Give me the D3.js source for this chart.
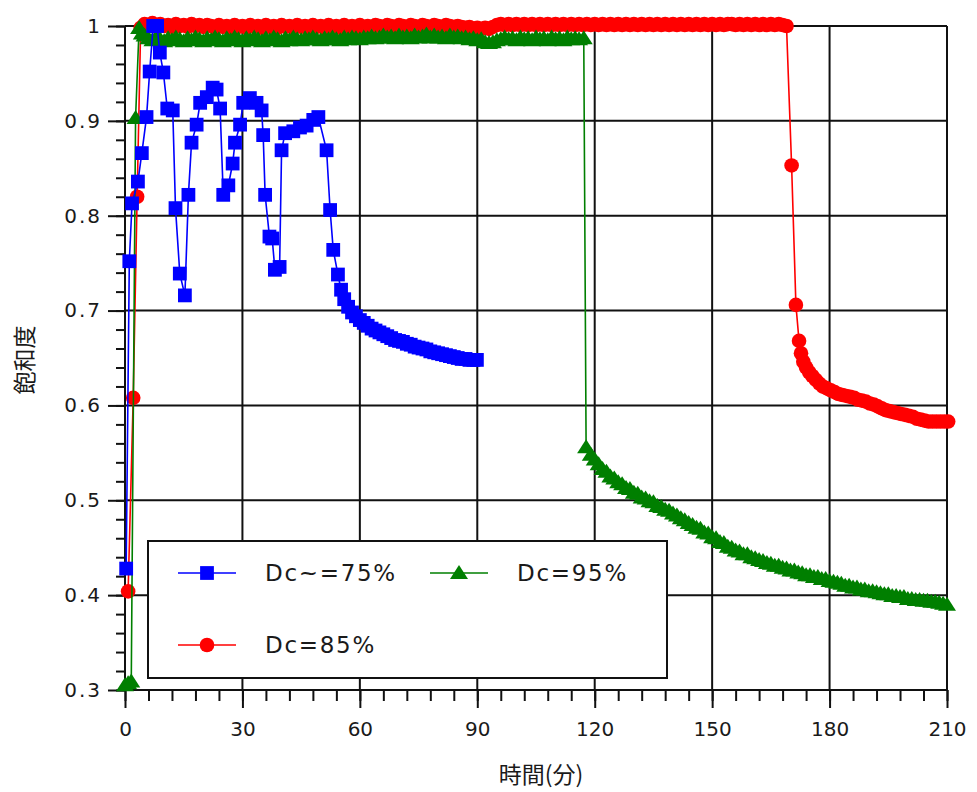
<!DOCTYPE html>
<html>
<head>
<meta charset="utf-8">
<script src="https://cdn.jsdelivr.net/npm/d3@7"></script>
<style>
  body { margin: 0; background: #fff; }
  text { font-family: "DejaVu Sans", Verdana, sans-serif; fill: #1a1a1a; }
  .cjk { font-family: "Noto Sans CJK JP", "Noto Sans CJK SC", sans-serif; }
</style>
</head>
<body>
<div id="chart"></div>
<script>
// tick labels
var xTicks = [0, 30, 60, 90, 120, 150, 180, 210];
var yTicks = [0.3, 0.4, 0.5, 0.6, 0.7, 0.8, 0.9, 1];
var yTickLabels = ["0.3", "0.4", "0.5", "0.6", "0.7", "0.8", "0.9", "1"];
var seriesNames = ["Dc~=75%", "Dc=95%", "Dc=85%"];

// Dc~=75%
var blueTime = [0.3, 1.1, 1.8, 3.3, 4.3, 5.5, 6.3, 7.2, 8.2, 8.9,
  9.8, 10.8, 12.2, 12.9, 14.0, 15.3, 16.2, 17.0, 18.3, 19.2,
  20.9, 22.4, 23.4, 24.3, 25.1, 26.4, 27.5, 28.1, 29.4, 30.2,
  31.9, 33.6, 34.9, 35.3, 35.8, 36.9, 37.6, 38.3, 39.5, 40.0,
  40.9, 43.0, 44.7, 46.4, 48.1, 49.4, 51.5, 52.4, 53.2, 54.4,
  55.2, 56, 57, 58, 59, 60, 61, 62, 63, 64, 65, 66, 67, 68, 69, 70,
  71, 72, 73, 74, 75, 76, 77, 78, 79, 80, 81, 82, 83, 84, 85, 86,
  87, 88, 89, 89.9];
var blueValue = [0.428, 0.752, 0.813, 0.836, 0.866, 0.904, 0.952, 1.0, 1.0, 0.972,
  0.951, 0.913, 0.911, 0.808, 0.739, 0.716, 0.822, 0.877, 0.896, 0.919,
  0.925, 0.935, 0.933, 0.913, 0.822, 0.832, 0.855, 0.877, 0.896, 0.919,
  0.924, 0.919, 0.911, 0.885, 0.822, 0.778, 0.776, 0.743, 0.746, 0.869,
  0.887, 0.889, 0.893, 0.895, 0.901, 0.904, 0.869, 0.806, 0.764, 0.738,
  0.722, 0.712, 0.704, 0.698, 0.694, 0.690, 0.687, 0.684, 0.681, 0.679, 0.677, 0.675, 0.673, 0.671, 0.669, 0.668,
  0.667, 0.665, 0.664, 0.662, 0.661, 0.660, 0.659, 0.657, 0.656, 0.655, 0.654, 0.653, 0.652, 0.651, 0.650, 0.649,
  0.649, 0.648, 0.648, 0.648];

// Dc=95%
var greenTime = [0, 0.8, 1.6, 2.7, 3.6, 4.3,
  5, 6, 7, 8, 9, 10, 11, 12, 13, 14, 15, 16, 17, 18,
  19, 20, 21, 22, 23, 24, 25, 26, 27, 28, 29, 30, 31, 32,
  33, 34, 35, 36, 37, 38, 39, 40, 41, 42, 43, 44, 45, 46,
  47, 48, 49, 50, 51, 52, 53, 54, 55, 56, 57, 58, 59, 60,
  61, 62, 63, 64, 65, 66, 67, 68, 69, 70, 71, 72, 73, 74,
  75, 76, 77, 78, 79, 80, 81, 82, 83, 84, 85, 86, 87, 88,
  89, 90, 91, 92, 93, 94, 95, 96, 97, 98, 99, 100, 101, 102,
  103, 104, 105, 106, 107, 108, 109, 110, 111, 112, 113, 114, 115, 116,
  117.2, 117.8,
  119, 120, 121, 122, 123, 124, 125, 126, 127, 128, 129, 130, 131, 132,
  133, 134, 135, 136, 137, 138, 139, 140, 141, 142, 143, 144, 145, 146,
  147, 148, 149, 150, 151, 152, 153, 154, 155, 156, 157, 158, 159, 160,
  161, 162, 163, 164, 165, 166, 167, 168, 169, 170, 171, 172, 173, 174,
  175, 176, 177, 178, 179, 180, 181, 182, 183, 184, 185, 186, 187, 188,
  189, 190, 191, 192, 193, 194, 195, 196, 197, 198, 199, 200, 201, 202,
  203, 204, 205, 206, 207, 208, 209, 210];
var greenValue = [0.305, 0.307, 0.309, 0.903, 0.998, 0.992,
  0.990, 0.987, 0.985, 0.988, 0.986, 0.984, 0.987, 0.985, 0.988, 0.986, 0.984, 0.987, 0.985, 0.988,
  0.986, 0.984, 0.987, 0.985, 0.988, 0.986, 0.984, 0.987, 0.985, 0.988, 0.986, 0.984, 0.987, 0.985,
  0.988, 0.986, 0.984, 0.987, 0.985, 0.988, 0.986, 0.984, 0.987, 0.985, 0.988, 0.986, 0.985, 0.987,
  0.986, 0.988, 0.986, 0.985, 0.987, 0.986, 0.988, 0.986, 0.985, 0.988, 0.986, 0.988, 0.987, 0.986,
  0.988, 0.987, 0.989, 0.987, 0.988, 0.990, 0.988, 0.989, 0.987, 0.990, 0.988, 0.989, 0.987, 0.990,
  0.988, 0.989, 0.991, 0.988, 0.990, 0.988, 0.989, 0.987, 0.990, 0.988, 0.989, 0.987, 0.988, 0.986,
  0.987, 0.985, 0.986, 0.983, 0.982, 0.983, 0.985, 0.986, 0.988, 0.986, 0.987, 0.985, 0.988, 0.986,
  0.987, 0.985, 0.988, 0.986, 0.987, 0.985, 0.988, 0.986, 0.987, 0.985, 0.988, 0.986, 0.987, 0.986,
  0.987, 0.556,
  0.548, 0.543, 0.538, 0.533, 0.530, 0.525, 0.523, 0.519, 0.517, 0.513, 0.512, 0.508, 0.507, 0.503,
  0.502, 0.499, 0.498, 0.494, 0.493, 0.490, 0.489, 0.486, 0.484, 0.481, 0.479, 0.476, 0.474, 0.471,
  0.470, 0.466, 0.465, 0.461, 0.460, 0.456, 0.455, 0.451, 0.450, 0.447, 0.446, 0.443, 0.443, 0.440,
  0.439, 0.437, 0.436, 0.434, 0.433, 0.431, 0.431, 0.429, 0.428, 0.426, 0.426, 0.424, 0.423, 0.421,
  0.421, 0.419, 0.419, 0.417, 0.417, 0.415, 0.414, 0.413, 0.412, 0.410, 0.410, 0.408, 0.408, 0.406,
  0.406, 0.404, 0.404, 0.403, 0.402, 0.401, 0.401, 0.399, 0.399, 0.398, 0.398, 0.396, 0.396, 0.395,
  0.395, 0.394, 0.394, 0.393, 0.393, 0.392, 0.391, 0.390];

// Dc=85%
var redTime = [0.8, 2.1, 3.1, 4.0,
  5, 6, 7, 8, 9, 10, 11, 12, 13, 14, 15, 16, 17, 18, 19,
  20, 21, 22, 23, 24, 25, 26, 27, 28, 29, 30, 31, 32, 33, 34,
  35, 36, 37, 38, 39, 40, 41, 42, 43, 44, 45, 46, 47, 48, 49,
  50, 51, 52, 53, 54, 55, 56, 57, 58, 59, 60, 61, 62, 63, 64,
  65, 66, 67, 68, 69, 70, 71, 72, 73, 74, 75, 76, 77, 78, 79,
  80, 81, 82, 83, 84, 85, 86, 87, 88, 89, 90, 91, 92, 93, 94,
  95, 96, 97, 98, 99, 100, 101, 102, 103, 104, 105, 106, 107, 108, 109,
  110, 111, 112, 113, 114, 115, 116, 117, 118, 119, 120, 121, 122, 123, 124,
  125, 126, 127, 128, 129, 130, 131, 132, 133, 134, 135, 136, 137, 138, 139,
  140, 141, 142, 143, 144, 145, 146, 147, 148, 149, 150, 151, 152, 153, 154,
  155, 156, 157, 158, 159, 160, 161, 162, 163, 164, 165, 166, 167, 168, 169,
  170.3, 171.4, 172.2, 172.7, 173.3, 174.0, 174.8, 175.6, 176.5, 177.4,
  178.3, 179.3, 180.3, 181.3, 182.3, 183.3, 184.3, 185.3, 186.3, 187.3,
  188.3, 189.3, 190.3, 191.3, 192.3, 193.3, 194.3, 195.3, 196.3, 197.3,
  198.3, 199.3, 200.3, 201.3, 202.3, 203.3, 204.3, 205.3, 206.3, 207.3,
  208.3, 209.3, 210.3];
var redValue = [0.404, 0.608, 0.820, 0.998,
  1.002, 1.000, 1.003, 0.999, 1.002, 1.000, 1.001, 0.999, 1.002, 1.000, 1.001, 0.999, 1.002, 1.000, 1.001,
  0.999, 1.001, 1.000, 0.998, 1.001, 0.999, 1.000, 0.998, 1.001, 0.999, 1.000, 0.998, 1.001, 0.999, 1.000,
  0.998, 1.001, 0.999, 1.000, 0.998, 1.001, 0.999, 1.000, 0.998, 1.001, 0.999, 1.000, 0.998, 1.001, 0.999,
  1.000, 0.998, 1.001, 0.999, 1.000, 0.998, 1.001, 0.999, 1.000, 0.998, 1.001, 0.999, 1.000, 0.999, 1.001,
  1.000, 0.999, 1.001, 1.000, 0.999, 1.001, 1.000, 0.999, 1.001, 1.000, 0.999, 1.001, 1.000, 0.999, 1.001,
  1.000, 0.999, 1.001, 1.000, 0.999, 1.000, 0.999, 0.998, 0.999, 0.997, 0.998, 0.997, 0.998, 0.997, 0.999,
  1.001, 1.002, 1.001, 1.002, 1.001, 1.002, 1.001, 1.002, 1.001, 1.002, 1.001, 1.002, 1.001, 1.002, 1.001,
  1.002, 1.001, 1.002, 1.001, 1.002, 1.001, 1.002, 1.001, 1.002, 1.001, 1.002, 1.001, 1.002, 1.001, 1.002,
  1.001, 1.002, 1.001, 1.002, 1.001, 1.002, 1.001, 1.002, 1.001, 1.002, 1.001, 1.002, 1.001, 1.002, 1.001,
  1.002, 1.001, 1.002, 1.001, 1.002, 1.001, 1.002, 1.001, 1.002, 1.001, 1.002, 1.001, 1.002, 1.001, 1.002,
  1.002, 1.001, 1.002, 1.001, 1.002, 1.001, 1.002, 1.001, 1.002, 1.001, 1.002, 1.001, 1.002, 1.001, 1.000,
  0.853, 0.706, 0.668, 0.655, 0.646, 0.640, 0.635, 0.631, 0.627, 0.623,
  0.620, 0.618, 0.616, 0.614, 0.612, 0.611, 0.610, 0.609, 0.608, 0.606,
  0.605, 0.604, 0.602, 0.601, 0.599, 0.597, 0.595, 0.594, 0.593, 0.592,
  0.591, 0.590, 0.589, 0.588, 0.586, 0.585, 0.584, 0.583, 0.583, 0.583,
  0.583, 0.583, 0.583];

var WIDTH = 977, HEIGHT = 792;
var LEFT = 125, RIGHT = 947, TOP = 26, BOTTOM = 690;

var svg = d3.select("#chart").append("svg")
  .attr("width", WIDTH)
  .attr("height", HEIGHT);

var x = d3.scaleLinear().domain([0, 210]).range([LEFT, RIGHT]);
var y = d3.scaleLinear().domain([0.3, 1]).range([BOTTOM, TOP]);

// grid
var grid = svg.append("g").attr("stroke", "#111").attr("stroke-width", 2);
grid.selectAll(".vg").data(xTicks).enter().append("line")
  .attr("x1", function(d){ return x(d); }).attr("x2", function(d){ return x(d); })
  .attr("y1", TOP).attr("y2", BOTTOM);
grid.selectAll(".hg").data(yTicks).enter().append("line")
  .attr("x1", LEFT).attr("x2", RIGHT)
  .attr("y1", function(d){ return y(d); }).attr("y2", function(d){ return y(d); });

// axes: major + minor ticks
function styleAxis(g){
  g.select(".domain").remove();
  g.selectAll(".tick line").attr("stroke", "#111").attr("stroke-width", 2);
  g.selectAll(".tick text").attr("fill", "#1a1a1a").style("font-size", "20px");
}
svg.append("g").attr("transform", "translate(0," + BOTTOM + ")")
  .call(d3.axisBottom(x).tickValues(d3.range(0, 211, 6)).tickSize(11).tickFormat(""))
  .call(styleAxis);
svg.append("g").attr("transform", "translate(0," + BOTTOM + ")")
  .call(d3.axisBottom(x).tickValues(xTicks).tickSize(18).tickPadding(14).tickFormat(function(d){ return d; }))
  .call(styleAxis)
  .selectAll(".tick text").attr("font-family", "DejaVu Sans");
svg.append("g").attr("transform", "translate(" + LEFT + ",0)")
  .call(d3.axisLeft(y).tickValues(d3.range(30, 101, 2).map(function(v){ return v / 100; })).tickSize(9).tickFormat(""))
  .call(styleAxis);
svg.append("g").attr("transform", "translate(" + LEFT + ",0)")
  .call(d3.axisLeft(y).tickValues(yTicks).tickSize(17).tickPadding(6)
    .tickFormat(function(d, i){ return yTickLabels[i]; }))
  .call(styleAxis)
  .selectAll(".tick text").style("letter-spacing", "2px");

// axis titles
svg.append("text").attr("class", "cjk")
  .attr("transform", "translate(33,360) rotate(-90)")
  .attr("text-anchor", "middle")
  .style("font-size", "23px")
  .text("飽和度");
svg.append("text").attr("class", "cjk")
  .attr("x", 541).attr("y", 783)
  .attr("text-anchor", "middle")
  .style("font-size", "23px")
  .text("時間(分)");

// markers
var triangle = {
  draw: function(ctx, size){
    ctx.moveTo(0, -8); ctx.lineTo(9, 6); ctx.lineTo(-9, 6); ctx.closePath();
  }
};
var SERIES = [
  {name: seriesNames[2], t: redTime, v: redValue, color: "#ff0000", sym: d3.symbol().type(d3.symbolCircle).size(168)},
  {name: seriesNames[1], t: greenTime, v: greenValue, color: "#007f00", sym: d3.symbol().type(triangle)},
  {name: seriesNames[0], t: blueTime, v: blueValue, color: "#0000ff", sym: d3.symbol().type(d3.symbolSquare).size(190)}
];

var line = d3.line()
  .x(function(d){ return x(d[0]); })
  .y(function(d){ return y(d[1]); });

SERIES.forEach(function(s){
  var pts = d3.zip(s.t, s.v);
  var g = svg.append("g");
  g.append("path").datum(pts)
    .attr("d", line)
    .attr("fill", "none")
    .attr("stroke", s.color)
    .attr("stroke-width", 1.6);
  g.selectAll("path.m").data(pts).enter().append("path")
    .attr("class", "m")
    .attr("d", s.sym())
    .attr("transform", function(d){ return "translate(" + x(d[0]) + "," + y(d[1]) + ")"; })
    .attr("fill", s.color);
});

// legend
var legend = svg.append("g");
legend.append("rect")
  .attr("x", 148).attr("y", 541).attr("width", 519).attr("height", 137)
  .attr("fill", "#fff").attr("stroke", "#111").attr("stroke-width", 2);
var LEG = [
  {s: SERIES[2], x: 178, y: 573},
  {s: SERIES[1], x: 430, y: 573},
  {s: SERIES[0], x: 178, y: 645}
];
LEG.forEach(function(l){
  legend.append("line")
    .attr("x1", l.x).attr("x2", l.x + 58)
    .attr("y1", l.y).attr("y2", l.y)
    .attr("stroke", l.s.color).attr("stroke-width", 1.6);
  legend.append("path")
    .attr("d", l.s.sym())
    .attr("transform", "translate(" + (l.x + 29) + "," + l.y + ")")
    .attr("fill", l.s.color);
  legend.append("text")
    .attr("x", l.x + 87).attr("y", l.y + 8)
    .style("font-size", "23px")
    .style("letter-spacing", "1.7px")
    .text(l.s.name);
});
</script>
</body>
</html>
